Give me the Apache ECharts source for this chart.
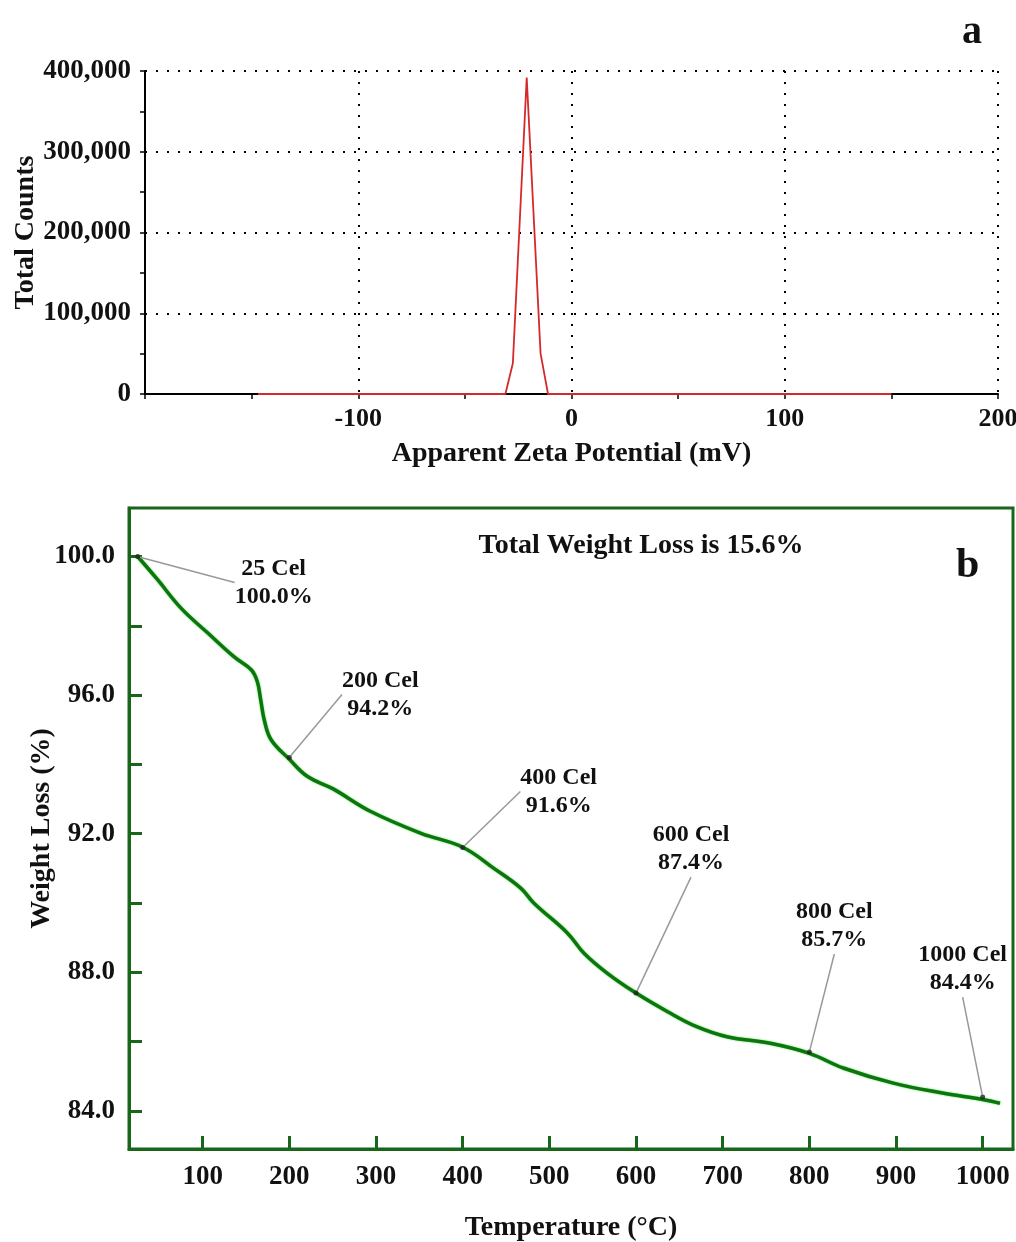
<!DOCTYPE html>
<html>
<head>
<meta charset="utf-8">
<script src="https://cdn.jsdelivr.net/npm/echarts@6/dist/echarts.min.js"></script>
<style>
  html, body { margin: 0; padding: 0; background: #fff; }
  #main { width: 1016px; height: 1242px; }
</style>
</head>
<body>
<div id="main"></div>
<script>
// (a) zeta potential distribution
var zetaMv = [-147, -31, -27.5, -21, -14.5, -11, 150];
var zetaCounts = [0, 0, 38000, 392000, 50000, 0, 0];

// (b) TGA curve
var tempC = [25, 48, 75, 106, 136, 156, 163, 167, 171, 179, 200, 221, 250, 294, 352, 400,
             436, 467, 482, 521, 540, 567, 600, 636, 670, 705, 755, 800, 840, 897, 955, 1000, 1020];
var weightPct = [100.0, 99.33, 98.51, 97.79, 97.11, 96.73, 96.39, 95.86, 95.29, 94.71, 94.15, 93.65, 93.3, 92.64, 92.01, 91.61,
                 91.0, 90.43, 90.0, 89.13, 88.55, 87.97, 87.4, 86.87, 86.43, 86.14, 85.95, 85.66, 85.23, 84.8, 84.51, 84.33, 84.22];

// annotated points
var markTemp = [25, 200, 400, 600, 800, 1000];
var markWeight = [100.0, 94.2, 91.6, 87.4, 85.7, 84.4];
var labelShift = [[136, 26], [91, -63], [96, -56], [55, -144], [25, -126], [-20, -128]];

var tempTicks = [100, 200, 300, 400, 500, 600, 700, 800, 900, 1000];
var weightLabels = [84, 88, 92, 96, 100];
var weightTicks = [84, 86, 88, 90, 92, 94, 96, 98, 100];

var FONT = 'Liberation Serif';
var GREEN = '#17661a';

var chart = echarts.init(document.getElementById('main'));

chart.setOption({
  backgroundColor: '#fff',
  animation: false,
  title: [
    { text: 'a', left: 957, top: 8, textStyle: { fontFamily: FONT, fontWeight: 'bold', fontSize: 40, color: '#111' } },
    { text: 'b', left: 951, top: 540, textStyle: { fontFamily: FONT, fontWeight: 'bold', fontSize: 42, color: '#111' } },
    { text: 'Total Weight Loss is 15.6%', left: 636, top: 527, textAlign: 'center',
      textStyle: { fontFamily: FONT, fontWeight: 'bold', fontSize: 28, color: '#111' } }
  ],
  grid: [
    { left: 145, right: 18, top: 71, bottom: 848, outerBoundsMode: 'none', containLabel: false },
    { left: 129, right: 3, top: 508, bottom: 93, outerBoundsMode: 'none', containLabel: false,
      show: true, borderColor: GREEN, borderWidth: 3 }
  ],
  xAxis: [
    {
      type: 'value', gridIndex: 0, min: -200, max: 200, interval: 100,
      name: 'Apparent Zeta Potential (mV)', nameLocation: 'middle', nameGap: 46, nameMoveOverlap: false,
      nameTextStyle: { fontFamily: FONT, fontWeight: 'bold', fontSize: 28, color: '#111' },
      axisLine: { show: true, onZero: false, lineStyle: { color: '#000', width: 2 } },
      axisTick: { show: true, length: 5, lineStyle: { color: '#000', width: 1.5 } },
      minorTick: { show: true, splitNumber: 2, length: 5, lineStyle: { color: '#000', width: 1.5 } },
      axisLabel: { showMinLabel: false, margin: 12, fontFamily: FONT, fontWeight: 'bold', fontSize: 26, color: '#111' },
      splitLine: { show: true, lineStyle: { color: '#000', type: [2, 9], width: 2 } },
      z: 5
    },
    {
      type: 'value', gridIndex: 1, min: 15, max: 1035,
      name: 'Temperature (°C)', nameLocation: 'middle', nameGap: 65, nameMoveOverlap: false,
      nameTextStyle: { fontFamily: FONT, fontWeight: 'bold', fontSize: 28, color: '#111' },
      axisLine: { show: true, onZero: false, lineStyle: { color: GREEN, width: 3 } },
      axisTick: { inside: true, length: 13, customValues: tempTicks, lineStyle: { color: GREEN, width: 3 } },
      axisLabel: {
        customValues: tempTicks, margin: 15, fontFamily: FONT, fontWeight: 'bold', fontSize: 27, color: '#111',
        formatter: function (v) { return String(v); }
      },
      splitLine: { show: false }
    }
  ],
  yAxis: [
    {
      type: 'value', gridIndex: 0, min: 0, max: 400000, interval: 100000,
      name: 'Total Counts', nameLocation: 'middle', nameGap: 105, nameMoveOverlap: false,
      nameTextStyle: { fontFamily: FONT, fontWeight: 'bold', fontSize: 28, color: '#111' },
      axisLine: { show: true, onZero: false, lineStyle: { color: '#000', width: 2 } },
      axisTick: { show: true, length: 5, lineStyle: { color: '#000', width: 1.5 } },
      minorTick: { show: true, splitNumber: 2, length: 5, lineStyle: { color: '#000', width: 1.5 } },
      axisLabel: {
        margin: 14, fontFamily: FONT, fontWeight: 'bold', fontSize: 27, color: '#111',
        formatter: function (v) { return v.toLocaleString('en-US'); }
      },
      splitLine: { show: true, lineStyle: { color: '#000', type: [2, 9], width: 2 } },
      z: 5
    },
    {
      type: 'value', gridIndex: 1, min: 82.9, max: 101.4,
      name: 'Weight Loss (%)', nameLocation: 'middle', nameGap: 73, nameMoveOverlap: false,
      nameTextStyle: { fontFamily: FONT, fontWeight: 'bold', fontSize: 28, color: '#111' },
      axisLine: { show: true, onZero: false, lineStyle: { color: GREEN, width: 3 } },
      axisTick: { show: true, inside: true, length: 13, customValues: weightTicks, lineStyle: { color: GREEN, width: 3 } },
      axisLabel: {
        customValues: weightLabels, margin: 14, fontFamily: FONT, fontWeight: 'bold', fontSize: 27, color: '#111',
        formatter: function (v) { return v.toFixed(1); }
      },
      splitLine: { show: false }
    }
  ],
  series: [
    {
      name: 'zeta', type: 'line', xAxisIndex: 0, yAxisIndex: 0,
      data: zetaMv.map(function (x, i) { return [x, zetaCounts[i]]; }),
      showSymbol: false, z: 6,
      lineStyle: { color: '#d42a2a', width: 1.8 }
    },
    {
      name: 'tga', type: 'line', xAxisIndex: 1, yAxisIndex: 1,
      data: tempC.map(function (t, i) { return [t, weightPct[i]]; }),
      showSymbol: false, smooth: 0.4,
      lineStyle: { color: '#0b760b', width: 3.5, shadowColor: '#55d055', shadowBlur: 2 }
    },
    {
      name: 'marks', type: 'scatter', xAxisIndex: 1, yAxisIndex: 1,
      data: markTemp.map(function (t, i) { return [t, markWeight[i]]; }),
      symbolSize: 5, itemStyle: { color: '#222' }, z: 4,
      label: {
        show: true, position: 'inside', align: 'center', verticalAlign: 'middle',
        fontFamily: FONT, fontWeight: 'bold', fontSize: 24, lineHeight: 28, color: '#111',
        textBorderWidth: 0, opacity: 1,
        formatter: function (p) { return p.value[0] + ' Cel\n' + p.value[1].toFixed(1) + '%'; }
      },
      labelLine: { show: true, lineStyle: { color: '#999', width: 1.5 } },
      labelLayout: function (p) {
        return { dx: labelShift[p.dataIndex][0], dy: labelShift[p.dataIndex][1] };
      }
    }
  ]
});
</script>
</body>
</html>
